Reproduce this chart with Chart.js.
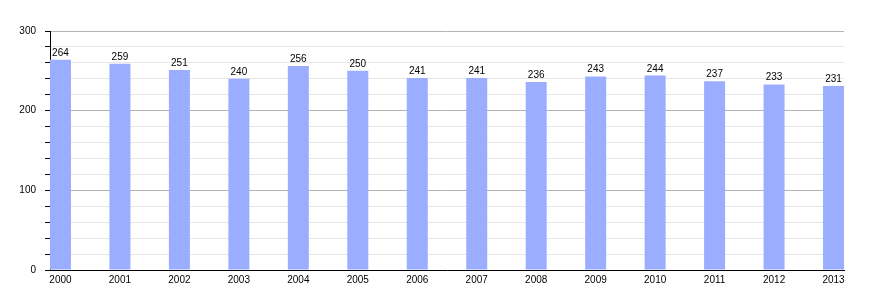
<!DOCTYPE html>
<html>
<head>
<meta charset="utf-8">
<script src="https://cdn.jsdelivr.net/npm/chart.js@4"></script>
<style>
  body { margin: 0; background: #fff; }
  #wrap { width: 874px; height: 300px; }
</style>
</head>
<body>
<div id="wrap"><canvas id="chart"></canvas></div>
<script>
const years = ['2000', '2001', '2002', '2003', '2004', '2005', '2006', '2007', '2008', '2009', '2010', '2011', '2012', '2013'];
const population = [264, 259, 251, 240, 256, 250, 241, 241, 236, 243, 244, 237, 233, 231];
const yTicks = [0, 100, 200, 300];

const FONT = "'Liberation Sans', Arial, sans-serif";

// write the value above each bar
const valueLabels = {
    id: 'valueLabels',
    afterDatasetsDraw(chart) {
        const ctx = chart.ctx;
        ctx.save();
        ctx.font = '10px ' + FONT;
        ctx.fillStyle = '#000';
        ctx.textAlign = 'center';
        ctx.textBaseline = 'alphabetic';
        chart.getDatasetMeta(0).data.forEach((bar, i) => {
            ctx.fillText(population[i], bar.x, bar.y - 4);
        });
        ctx.restore();
    }
};

new Chart(document.getElementById('chart'), {
    type: 'bar',
    data: {
        datasets: [{
            data: population.map((v, i) => ({ x: i, y: v })),
            backgroundColor: '#9aadff',
            borderWidth: 0,
            barPercentage: 0.353,
            categoryPercentage: 1
        }]
    },
    options: {
        responsive: true,
        maintainAspectRatio: false,
        animation: false,
        layout: { padding: { top: 31, right: 30, left: 0, bottom: 0 } },
        plugins: { legend: { display: false }, tooltip: { enabled: false } },
        scales: {
            x: {
                type: 'linear',
                offset: false,
                min: -0.176,
                max: years.length - 1 + 0.176,
                afterBuildTicks: scale => { scale.ticks = years.map((_, i) => ({ value: i })); },
                afterFit: scale => { scale.height = 30; },
                grid: { display: true, offset: false, drawOnChartArea: false, drawTicks: false },
                border: { color: '#000', width: 1 },
                ticks: {
                    autoSkip: false,
                    maxRotation: 0,
                    padding: 4,
                    color: '#000',
                    font: { family: FONT, size: 10 },
                    callback: v => years[v]
                }
            },
            y: {
                min: 0,
                max: 300,
                afterFit: scale => { scale.width = 50; },
                grid: {
                    color: c => (c.tick && c.tick.value % 100 === 0) ? '#b4b4b4' : '#e6e6e6',
                    tickColor: '#000',
                    tickLength: 5
                },
                border: { color: '#000', width: 1 },
                ticks: {
                    stepSize: 20,
                    autoSkip: false,
                    padding: 9,
                    color: '#000',
                    font: { family: FONT, size: 10 },
                    callback: v => yTicks.includes(v) ? v : ''
                }
            }
        }
    },
    plugins: [valueLabels]
});
</script>
</body>
</html>
